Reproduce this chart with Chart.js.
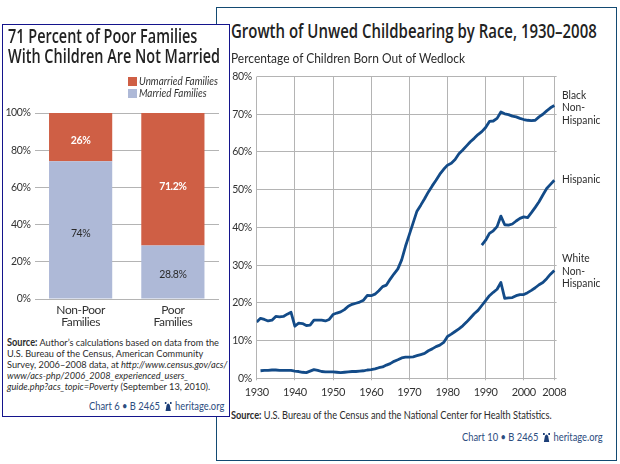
<!DOCTYPE html>
<html>
<head>
<meta charset="utf-8">
<script src="https://cdn.jsdelivr.net/npm/chart.js@4"></script>
<style>
html, body { margin: 0; padding: 0; background: #fff; }
body { width: 620px; height: 464px; position: relative; overflow: hidden; font-family: Lato, sans-serif; color: #2b2b2b; }
.panel { position: absolute; box-sizing: border-box; background: #fff; }
#panelRight { left: 216px; top: 7px; width: 401px; height: 454px; border: 1px solid #134a72; }
#panelLeft { left: 2px; top: 24px; width: 228px; height: 393px; border: 1px solid #14148c; }
canvas { position: absolute; }
.txt { position: absolute; white-space: nowrap; transform-origin: 0 0; }
.title { font-family: "Open Sans", sans-serif; font-weight: 600; color: #222; }
.foot { color: #2d4d80; font-size: 10.5px; transform: scaleX(.89); }
.foot svg { vertical-align: -1px; margin: 0 4px 0 5px; }
#legendBox .row { position: absolute; left: 0; font-style: italic; font-size: 10.5px; white-space: nowrap; color: #333; }
#legendBox i { position: absolute; left: 0; top: 0; width: 9px; height: 9px; }
#legendBox span { position: absolute; left: 11px; top: -2px; transform: scaleX(.94); transform-origin: 0 0; }
</style>
</head>
<body>
<div class="panel" id="panelRight"></div>
<canvas id="lineChart" style="left:217px;top:60px"></canvas>
<div class="txt title" style="left:231px;top:19px;font-size:19px;line-height:24px;transform:scaleX(.787)">Growth of Unwed Childbearing by Race, 1930–2008</div>
<div class="txt" style="left:231px;top:50px;font-size:13px;transform:scaleX(.92)">Percentage of Children Born Out of Wedlock</div>
<div class="txt" style="left:562px;top:89px;font-size:11px;line-height:12.3px;transform:scaleX(.93)">Black<br>Non-<br>Hispanic</div>
<div class="txt" style="left:562px;top:173px;font-size:11px;line-height:12px;transform:scaleX(.93)">Hispanic</div>
<div class="txt" style="left:562px;top:252px;font-size:11px;line-height:12.5px;transform:scaleX(.93)">White<br>Non-<br>Hispanic</div>
<div class="txt" style="left:231px;top:409px;font-size:10.5px;transform:scaleX(.877)"><b>Source:</b> U.S. Bureau of the Census and the National Center for Health Statistics.</div>
<div class="txt foot" style="left:462px;top:431px">Chart 10 • B 2465<svg width="8" height="9" viewBox="0 0 8 9"><path d="M1 9 L2.2 3 Q4 0 5.8 3 L7 9 Z M0 0 H2 V2 H0 Z M6 0 H8 V2 H6 Z" fill="#1d3f78"/></svg>heritage.org</div>

<div class="panel" id="panelLeft"></div>
<canvas id="barChart" style="left:3px;top:60px"></canvas>
<div class="txt title" style="left:8px;top:27px;font-size:19px;line-height:19.5px;transform:scaleX(.76)">71 Percent of Poor Families<br>With Children Are Not Married</div>
<div id="legendBox" class="txt" style="left:128px;top:77px"></div>
<div class="txt" style="left:7px;top:337px;font-size:10.4px;line-height:10.9px;transform:scaleX(.885)"><b>Source:</b> Author’s calculations based on data from the<br>U.S. Bureau of the Census, American Community<br>Survey, 2006–2008 data, at <i>http://www.census.gov/acs/</i><br><i>www/acs-php/2006_2008_experienced_users_</i><br><i>guide.php?acs_topic=Poverty</i> (September 13, 2010).</div>
<div class="txt foot" style="left:89px;top:400px">Chart 6 • B 2465<svg width="8" height="9" viewBox="0 0 8 9"><path d="M1 9 L2.2 3 Q4 0 5.8 3 L7 9 Z M0 0 H2 V2 H0 Z M6 0 H8 V2 H6 Z" fill="#1d3f78"/></svg>heritage.org</div>

<script>
// left chart
const barCategories = [["Non-Poor", "Families"], ["Poor", "Families"]];
const marriedValues = [74, 28.8];
const unmarriedValues = [26, 71.2];
const marriedLabels = ["74%", "28.8%"];
const unmarriedLabels = ["26%", "71.2%"];
const barTicks = [0, 20, 40, 60, 80, 100];

// right chart, one value per year starting 1930
const firstYear = 1930;
const xTicks = [1930, 1940, 1950, 1960, 1970, 1980, 1990, 2000, 2008];
const yTicks = [0, 10, 20, 30, 40, 50, 60, 70, 80];
const blackValues = [14.9, 15.9, 15.6, 15.2, 15.4, 16.4, 16.3, 16.4, 17.0, 17.5,
  13.8, 14.6, 14.5, 14.0, 14.1, 15.4, 15.4, 15.4, 15.2, 15.6,
  16.9, 17.3, 17.6, 18.2, 19.1, 19.6, 19.9, 20.2, 20.7, 22.0,
  21.9, 22.3, 23.2, 24.3, 24.7, 26.3, 27.7, 29.0, 31.4, 35.0,
  38.1, 41.2, 44.3, 45.9, 47.6, 49.4, 51.0, 52.5, 54.1, 55.4,
  56.5, 57.0, 58.0, 59.5, 60.5, 61.6, 62.7, 63.6, 64.6, 65.4,
  66.5, 68.1, 68.2, 68.9, 70.6, 70.1, 69.9, 69.5, 69.3, 68.9,
  68.6, 68.4, 68.3, 68.4, 69.3, 70.0, 70.9, 71.7, 72.3];
const whiteValues = [null, 2.0, 2.1, 2.1, 2.2, 2.2, 2.1, 2.1, 2.1, 2.1,
  1.9, 1.8, 1.6, 1.5, 1.9, 2.3, 2.1, 1.8, 1.7, 1.7,
  1.7, 1.6, 1.5, 1.6, 1.7, 1.8, 1.8, 1.9, 2.0, 2.2,
  2.3, 2.5, 2.8, 3.0, 3.5, 3.9, 4.5, 4.9, 5.4, 5.6,
  5.6, 5.7, 6.0, 6.3, 6.6, 7.3, 7.8, 8.4, 8.8, 9.5,
  11.1, 11.7, 12.4, 13.1, 13.9, 14.9, 16.0, 17.1, 18.0, 19.3,
  20.6, 21.9, 22.8, 23.6, 25.4, 21.2, 21.3, 21.4, 21.9, 22.2,
  22.2, 22.7, 23.3, 24.0, 24.8, 25.4, 26.4, 27.6, 28.6];
const hispanicFirstYear = 1989;
const hispanicValues = [35.3, 36.6, 38.4, 39.1, 40.2, 43.0, 40.7, 40.6, 40.9, 41.7,
  42.4, 42.8, 42.6, 43.9, 45.3, 46.8, 48.6, 50.3, 51.4, 52.5];

const gridColor = "#b4b4b4";
const tickColor = "#333";
const lineColor = "#134b88";
const marriedColor = "#aeb9d7";
const unmarriedColor = "#cf5f45";

function fixSize(canvas, w, h) {
  canvas.width = w;
  canvas.height = h;
  canvas.style.width = w + "px";
  canvas.style.height = h + "px";
}

function toPoints(values, startYear) {
  return values.map((v, i) => ({ x: startYear + i, y: v }));
}

// legend from the series
const legendBox = document.getElementById("legendBox");
[["Unmarried Families", unmarriedColor], ["Married Families", marriedColor]].forEach((item, i) => {
  const row = document.createElement("div");
  row.className = "row";
  row.style.top = (i * 12) + "px";
  row.innerHTML = '<i style="background:' + item[1] + '"></i><span>' + item[0] + "</span>";
  legendBox.appendChild(row);
});

// tick text in the reference is set tight
const tightTextPlugin = {
  id: "tightText",
  beforeDraw(chart) {
    chart.ctx.letterSpacing = "-0.4px";
  }
};

// value labels inside the bars
const barLabelPlugin = {
  id: "barLabels",
  afterDatasetsDraw(chart) {
    const ctx = chart.ctx;
    ctx.save();
    ctx.textAlign = "center";
    ctx.textBaseline = "middle";
    chart.data.datasets.forEach((ds, d) => {
      chart.getDatasetMeta(d).data.forEach((bar, i) => {
        ctx.fillStyle = ds.labelColor;
        ctx.font = ds.labelFont;
        ctx.fillText(ds.valueLabels[i], bar.x, (bar.y + bar.base) / 2 + ds.labelShift[i]);
      });
    });
    ctx.restore();
  }
};

const barCanvas = document.getElementById("barChart");
fixSize(barCanvas, 224, 275);
new Chart(barCanvas, {
  type: "bar",
  plugins: [tightTextPlugin, barLabelPlugin],
  data: {
    labels: barCategories,
    datasets: [
      { label: "Married Families", data: marriedValues, backgroundColor: marriedColor,
        valueLabels: marriedLabels, labelShift: [4, 3], labelColor: "#2b2b2b", labelFont: "10.5px Lato" },
      { label: "Unmarried Families", data: unmarriedValues, backgroundColor: unmarriedColor,
        valueLabels: unmarriedLabels, labelShift: [3, 7], labelColor: "#fff", labelFont: "bold 10.5px Lato" }
    ]
  },
  options: {
    responsive: false,
    animation: false,
    layout: { padding: { top: 53, right: 8, left: 0, bottom: 0 } },
    plugins: { legend: { display: false }, tooltip: { enabled: false } },
    datasets: { bar: { categoryPercentage: 1, barPercentage: 0.685 } },
    scales: {
      x: {
        stacked: true,
        grid: { display: false, tickLength: 0 },
        border: { display: false },
        ticks: { color: tickColor, font: { family: "Lato", size: 12, lineHeight: 1 }, maxRotation: 0, padding: 5 },
        afterFit(s) { s.height = 36; }
      },
      y: {
        stacked: true,
        min: 0,
        max: 100,
        afterBuildTicks(s) { s.ticks = barTicks.map(v => ({ value: v })); },
        grid: { color: gridColor, lineWidth: 1, drawTicks: false },
        border: { display: false },
        ticks: { color: tickColor, font: { family: "Lato", size: 10.5 }, padding: 4, callback: v => v + "%" },
        afterFit(s) { s.width = 31.5; }
      }
    }
  }
});

const lineCanvas = document.getElementById("lineChart");
fixSize(lineCanvas, 398, 340);
const lineStyle = { borderColor: lineColor, borderWidth: 2.8, pointRadius: 0, tension: 0, borderJoinStyle: "round", borderCapStyle: "butt", fill: false };
new Chart(lineCanvas, {
  type: "line",
  plugins: [tightTextPlugin],
  data: {
    datasets: [
      Object.assign({ label: "Black Non-Hispanic", data: toPoints(blackValues, firstYear) }, lineStyle),
      Object.assign({ label: "Hispanic", data: toPoints(hispanicValues, hispanicFirstYear) }, lineStyle),
      Object.assign({ label: "White Non-Hispanic", data: toPoints(whiteValues, firstYear) }, lineStyle)
    ]
  },
  options: {
    responsive: false,
    animation: false,
    layout: { padding: { top: 16.5, right: 58.4, left: 0, bottom: 0 } },
    plugins: { legend: { display: false }, tooltip: { enabled: false } },
    scales: {
      x: {
        type: "linear",
        min: 1930,
        max: 2008.6,
        afterBuildTicks(s) { s.ticks = xTicks.map(v => ({ value: v })); },
        grid: { color: gridColor, lineWidth: 1, tickLength: 2 },
        border: { display: false },
        ticks: { color: tickColor, font: { family: "Lato", size: 11 }, autoSkip: false, maxRotation: 0, padding: 6, callback: v => String(v) },
        afterFit(s) { s.height = 21.7; }
      },
      y: {
        min: 0,
        max: 80,
        afterBuildTicks(s) { s.ticks = yTicks.map(v => ({ value: v })); },
        grid: { color: gridColor, lineWidth: 1, drawTicks: false },
        border: { display: false },
        ticks: { color: tickColor, font: { family: "Lato", size: 10.5 }, padding: 5, callback: v => v + "%" },
        afterFit(s) { s.width = 39.7; }
      }
    }
  }
});
</script>
</body>
</html>
